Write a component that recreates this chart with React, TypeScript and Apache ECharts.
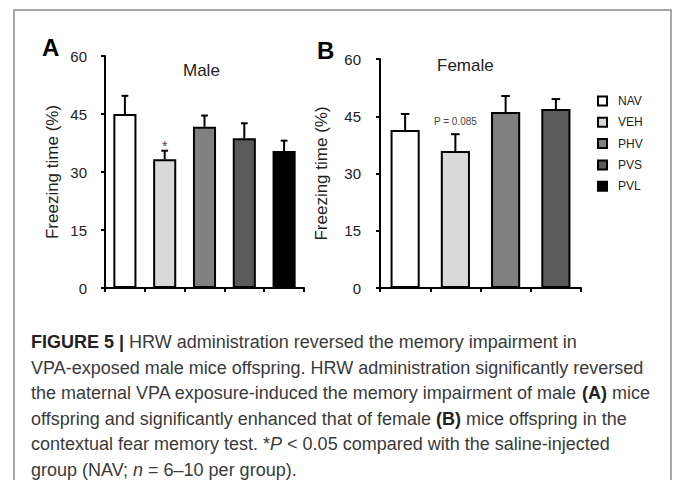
import React, { useEffect, useRef } from "react";
import * as echarts from "echarts";

const groups = ["NAV", "VEH", "PHV", "PVS", "PVL"];
const groupColors = ["#ffffff", "#d9d9d9", "#808080", "#5a5a5a", "#000000"];

const maleMeans = [45.0, 33.3, 41.7, 38.7, 35.4];
const maleUpper = [49.7, 35.5, 44.6, 42.6, 38.1];
const maleNotes = ["", "*", "", "", ""];

const femaleGroups = ["NAV", "VEH", "PHV", "PVS"];
const femaleMeans = [41.4, 35.9, 46.1, 46.9];
const femaleUpper = [45.6, 40.3, 50.3, 49.5];
const femaleNotes = ["", "P = 0.085", "", ""];

const yTicks = { min: 0, max: 60, interval: 15 };

const captionLines = [
  "{b|FIGURE 5 |} HRW administration reversed the memory impairment in",
  "VPA-exposed male mice offspring. HRW administration significantly reversed",
  "the maternal VPA exposure-induced the memory impairment of male {b|(A)} mice",
  "offspring and significantly enhanced that of female {b|(B)} mice offspring in the",
  "contextual fear memory test. *{i|P} < 0.05 compared with the saline-injected",
  "group (NAV; {i|n} = 6–10 per group).",
];

const FONT = "'Liberation Sans', Arial, Helvetica, sans-serif";

export default function App() {
  const ref = useRef<HTMLDivElement>(null);

  useEffect(() => {
    if (!ref.current) return;
    const chart = echarts.init(ref.current, null, { renderer: "svg" });

    const axisCommon = {
      axisLine: { show: true, lineStyle: { color: "#000", width: 2 } },
      axisTick: { show: true, length: 4, lineStyle: { color: "#000", width: 2 } },
      splitLine: { show: false },
    };

    const makeBars = (means: number[], gridIdx: number, names: string[]) =>
      names.map((name, i) => ({
        type: "bar",
        name,
        xAxisIndex: gridIdx,
        yAxisIndex: gridIdx,
        barWidth: "58%",
        barGap: "-100%",
        data: means.map((v, j) => (j === i ? v : "-")),
        itemStyle: {
          color: groupColors[i],
          borderColor: "#000",
          borderWidth: 2,
        },
        z: 2,
      }));

    const makeErr = (means: number[], upper: number[], notes: string[], gridIdx: number, noteSize: number, noteOff: number) => ({
      type: "custom",
      xAxisIndex: gridIdx,
      yAxisIndex: gridIdx,
      z: 3,
      data: means.map((m, i) => [i, m, upper[i]]),
      renderItem: (params: any, api: any) => {
        const x = api.value(0);
        const m = api.value(1);
        const u = api.value(2);
        const p0 = api.coord([x, m]);
        const p1 = api.coord([x, u]);
        const half = api.size([1, 0])[0] * 0.085;
        const note = notes[params.dataIndex];
        const children: any[] = [
          {
            type: "line",
            shape: { x1: p0[0], y1: p0[1], x2: p1[0], y2: p1[1] },
            style: { stroke: "#000", lineWidth: 2 },
          },
          {
            type: "line",
            shape: { x1: p1[0] - half, y1: p1[1], x2: p1[0] + half, y2: p1[1] },
            style: { stroke: "#000", lineWidth: 2 },
          },
        ];
        if (note) {
          children.push({
            type: "text",
            x: p1[0],
            y: p1[1] - noteOff,
            style: {
              text: note,
              fontSize: noteSize,
              fontFamily: FONT,
              fill: "#444",
              align: "center",
              verticalAlign: "middle",
            },
          });
        }
        return { type: "group", children };
      },
    });

    const option: any = {
      animation: false,
      backgroundColor: "#fff",
      textStyle: { fontFamily: FONT },
      title: [
        { text: "A", left: 37, top: 30, textStyle: { fontSize: 24, fontWeight: "bold", color: "#000", fontFamily: FONT } },
        { text: "B", left: 312, top: 33, textStyle: { fontSize: 24, fontWeight: "bold", color: "#000", fontFamily: FONT } },
        { text: "Male", left: 178, top: 57, textStyle: { fontSize: 17, fontWeight: "normal", color: "#222", fontFamily: FONT } },
        { text: "Female", left: 432, top: 52, textStyle: { fontSize: 17, fontWeight: "normal", color: "#222", fontFamily: FONT } },
      ],
      legend: {
        data: groups,
        orient: "vertical",
        left: 592,
        top: 90,
        icon: "rect",
        itemWidth: 9,
        itemHeight: 9,
        itemGap: 9.3,
        selectedMode: false,
        itemStyle: { borderColor: "#000", borderWidth: 2 },
        textStyle: { fontSize: 12, color: "#222", fontFamily: FONT, padding: [0, 0, 0, 6] },
      },
      grid: [
        { left: 105, top: 56, width: 199, height: 232 },
        { left: 380, top: 59, width: 201, height: 229 },
      ],
      xAxis: [
        { type: "category", gridIndex: 0, data: groups, axisLabel: { show: false }, ...axisCommon },
        { type: "category", gridIndex: 1, data: femaleGroups, axisLabel: { show: false }, ...axisCommon },
      ],
      yAxis: [0, 1].map((g) => ({
        type: "value",
        gridIndex: g,
        min: yTicks.min,
        max: yTicks.max,
        interval: yTicks.interval,
        name: "Freezing time (%)",
        nameLocation: "middle",
        nameGap: g === 0 ? 44 : 50,
        nameTextStyle: { fontSize: 17, color: "#222", fontFamily: FONT },
        axisLabel: { fontSize: 15, color: "#222", margin: g === 0 ? 18 : 19, fontFamily: FONT },
        ...axisCommon,
      })),
      series: [
        ...makeBars(maleMeans, 0, groups),
        ...makeBars(femaleMeans, 1, femaleGroups),
        makeErr(maleMeans, maleUpper, maleNotes, 0, 14, 5),
        makeErr(femaleMeans, femaleUpper, femaleNotes, 1, 10, 13),
      ],
      graphic: [
        {
          type: "rect",
          z: -1,
          shape: { x: 14, y: 10, width: 657, height: 520 },
          style: { fill: "none", stroke: "#8a8a8a", lineWidth: 1.5 },
          silent: true,
        },
        ...captionLines.map((line, i) => ({
          type: "text",
          x: 31,
          y: 342 + i * 25.5,
          silent: true,
          style: {
            text: line,
            fontSize: 18,
            fontFamily: FONT,
            fill: "#3a3a3a",
            verticalAlign: "middle",
            rich: {
              b: { fontWeight: "bold", fontSize: 18, fontFamily: FONT, fill: "#222" },
              i: { fontStyle: "italic", fontSize: 18, fontFamily: FONT, fill: "#3a3a3a" },
            },
          },
        })),
      ],
    };

    chart.setOption(option);
    return () => chart.dispose();
  }, []);

  return (
    <div
      ref={ref}
      style={{ position: "fixed", left: 0, top: 0, width: 673, height: 480, background: "#fff" }}
    />
  );
}
